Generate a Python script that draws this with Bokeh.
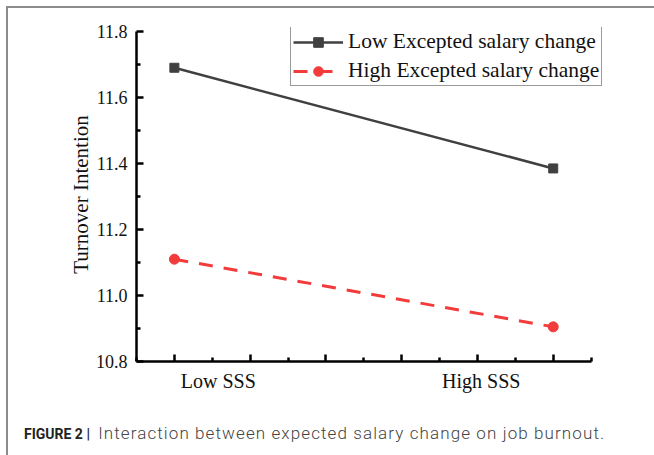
from bokeh.plotting import figure
from bokeh.models import FixedTicker, LinearAxis, Range1d, Div
from bokeh.layouts import column
from bokeh.embed import file_html
from bokeh.resources import INLINE

# ---- data ----
groups = ["Low SSS", "High SSS"]
x_pos = [1, 6]
low_change = [11.69, 11.385]     # Low Excepted salary change
high_change = [11.11, 10.905]    # High Excepted salary change
y_ticks = [10.8, 11.0, 11.2, 11.4, 11.6, 11.8]
y_minor = [10.9, 11.1, 11.3, 11.5, 11.7]
x_ticks = [1, 2, 3, 4, 5, 6]
x_minor = [0.5, 1.5, 2.5, 3.5, 4.5, 5.5, 6.5]
group_label_pos = [1.58, 5.05]
caption_head = "FIGURE 2 |"
caption_body = "Interaction between expected salary change on job burnout."

SERIF = "Liberation Serif"

# frame is a little larger than the axes so the legend (which overhangs the
# axes in the original) is not clipped; axis lines are limited with bounds
p = figure(width=644, height=395, output_backend="svg", toolbar_location=None,
           x_range=Range1d(0.5, 6.69), y_range=Range1d(10.8, 11.812),
           min_border_left=128, min_border_right=47, min_border_top=19,
           min_border_bottom=42, x_axis_type=None)
p.outline_line_color = None
p.grid.visible = False
p.background_fill_color = "white"
p.border_fill_color = "white"

# y axis
ya = p.yaxis[0]
ya.bounds = (10.8, 11.8)
ya.ticker = FixedTicker(ticks=y_ticks, minor_ticks=y_minor)
ya.major_label_overrides = {t: f"{t:.1f}" for t in y_ticks}
ya.axis_line_width = 2.5
ya.axis_line_color = "black"
ya.major_tick_in = 7
ya.major_tick_out = 0
ya.minor_tick_in = 4
ya.minor_tick_out = 0
ya.major_tick_line_width = 2.5
ya.minor_tick_line_width = 2.5
ya.major_label_text_font = SERIF
ya.major_label_text_font_size = "18px"
ya.major_label_text_color = "#111111"
ya.major_label_standoff = 9
ya.axis_label = "Turnover Intention"
ya.axis_label_text_font = SERIF
ya.axis_label_text_font_size = "21px"
ya.axis_label_text_font_style = "normal"
ya.axis_label_text_color = "#111111"
ya.axis_label_standoff = 0

# x axis: ticks
xa = LinearAxis(ticker=FixedTicker(ticks=x_ticks, minor_ticks=x_minor),
                bounds=(0.5, 6.5))
xa.major_label_overrides = {t: "" for t in x_ticks}
xa.major_label_text_font_size = "0px"
xa.major_label_standoff = 0
xa.axis_line_width = 2.5
xa.axis_line_color = "black"
xa.major_tick_in = 7
xa.major_tick_out = 0
xa.minor_tick_in = 4
xa.minor_tick_out = 0
xa.major_tick_line_width = 2.5
xa.minor_tick_line_width = 2.5
p.add_layout(xa, "below")

# x axis: group labels
xl = LinearAxis(ticker=FixedTicker(ticks=group_label_pos, minor_ticks=[]))
xl.major_label_overrides = {group_label_pos[i]: groups[i] for i in range(len(groups))}
xl.axis_line_color = None
xl.major_tick_line_color = None
xl.minor_tick_line_color = None
xl.major_label_text_font = SERIF
xl.major_label_text_font_size = "20px"
xl.major_label_text_color = "#111111"
xl.major_label_standoff = 2
p.add_layout(xl, "below")

# series
p.line(x_pos, low_change, line_color="#404040", line_width=2.5,
       legend_label="Low Excepted salary change")
p.scatter(x_pos, low_change, marker="square", size=9, fill_color="#404040",
          line_color="#404040", legend_label="Low Excepted salary change")
p.line(x_pos, high_change, line_color="#f23b3b", line_width=3,
       line_dash="14 11", legend_label="High Excepted salary change")
p.scatter(x_pos, high_change, marker="circle", size=10, fill_color="#f23b3b",
          line_color="#f23b3b", legend_label="High Excepted salary change")

lg = p.legend[0]
lg.location = (154, 275)
lg.label_text_font = SERIF
lg.label_text_font_size = "21.5px"
lg.label_text_color = "#111111"
lg.border_line_color = "#333333"
lg.border_line_width = 1
lg.background_fill_alpha = 1
lg.padding = 2
lg.spacing = 4
lg.margin = 0
lg.label_height = 24
lg.glyph_height = 24
lg.glyph_width = 50
lg.label_standoff = 5

cap = Div(text=f"<b style='font-family:Roboto;font-size:14px;color:#222'>{caption_head}</b>"
               f"<span style='font-family:Roboto;font-size:17px;color:#444;font-weight:300;"
               f"letter-spacing:1.1px;margin-left:3px'> {caption_body}</span>",
          width=644, height=51,
          styles={"padding-left": "11px", "padding-top": "13px", "white-space": "nowrap"})

layout = column(p, cap, spacing=0)
layout.margin = (6, 0, 0, 6)
layout.styles = {"border-left": "2px solid #8c8c8c", "border-top": "2px solid #8c8c8c"}

open("out.html", "w").write(file_html(layout, INLINE))
